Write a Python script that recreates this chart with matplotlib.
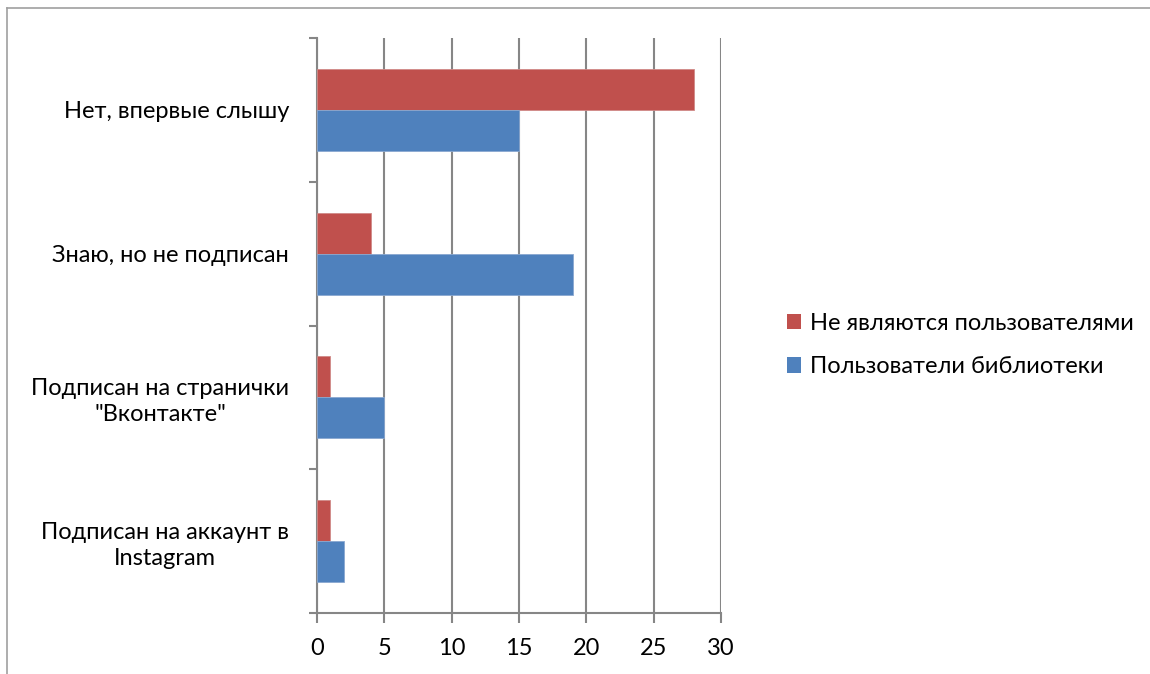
import numpy as np
import matplotlib.pyplot as plt
from matplotlib.patches import Patch
from matplotlib.lines import Line2D

# Data
categories = ['Нет, впервые слышу', 'Знаю, но не подписан',
              'Подписан на странички\n"Вконтакте"', 'Подписан на аккаунт в\nInstagram']
non_users = [28, 4, 1, 1]
library_users = [15, 19, 5, 2]
series_names = ['Не являются пользователями', 'Пользователи библиотеки']
x_ticks = [0, 5, 10, 15, 20, 25, 30]

plt.rcParams['font.family'] = ['Lato', 'DejaVu Sans']
FS = 17

W, H = 1150, 674
fig = plt.figure(figsize=(W / 100, H / 100), dpi=100)

# outer frame (top and left edges visible)
fig.add_artist(Line2D([7 / W, 7 / W], [0, 1 - 8 / H], transform=fig.transFigure, color='#a0a0a0', lw=1.2))
fig.add_artist(Line2D([7 / W, 1], [1 - 8 / H, 1 - 8 / H], transform=fig.transFigure, color='#a0a0a0', lw=1.2))

left, right, top, bottom = 317, 721, 38, 613
ax = fig.add_axes([left / W, 1 - bottom / H, (right - left) / W, (bottom - top) / H])

red = '#C0504D'
blue = '#4F81BD'
y = np.arange(len(categories))
h = 0.285
ax.barh(y - h / 2, non_users, height=h, color=red, edgecolor='#d08a88', linewidth=0.6, zorder=3)
ax.barh(y + h / 2, library_users, height=h, color=blue, edgecolor='#8aa8d0', linewidth=0.6, zorder=3)

ax.set_xlim(0, 30)
ax.set_ylim(len(categories) - 0.5, -0.5)

grid_c = '#868686'
ax.set_xticks(x_ticks)
ax.set_xticklabels([str(t) for t in x_ticks], fontsize=FS)
ax.xaxis.grid(True, color=grid_c, lw=1.5, zorder=0)
ax.tick_params(axis='x', length=7, width=1.5, color=grid_c, pad=11)

ax.set_yticks(np.arange(-0.5, len(categories)), labels=[''] * (len(categories) + 1))
ax.set_yticks(y, labels=categories, minor=True)
ax.tick_params(axis='y', which='major', length=6, width=1.5, color=grid_c)
ax.tick_params(axis='y', which='minor', length=0, pad=20, labelsize=FS)
for lbl in ax.get_yticklabels(minor=True):
    lbl.set_multialignment('center')
    lbl.set_linespacing(1.3)

for s in ['top', 'right']:
    ax.spines[s].set_visible(False)
for s in ['left', 'bottom']:
    ax.spines[s].set_color(grid_c)
    ax.spines[s].set_linewidth(1.5)

handles = [Patch(facecolor=red), Patch(facecolor=blue)]
fig.legend(handles, series_names, loc='center left', bbox_to_anchor=(775 / W, 1 - 345 / H),
           frameon=False, fontsize=FS, handlelength=0.62, handleheight=0.62,
           handletextpad=0.35, labelspacing=0.95, borderpad=0)

fig.savefig('out.png', dpi=100, facecolor='white')
